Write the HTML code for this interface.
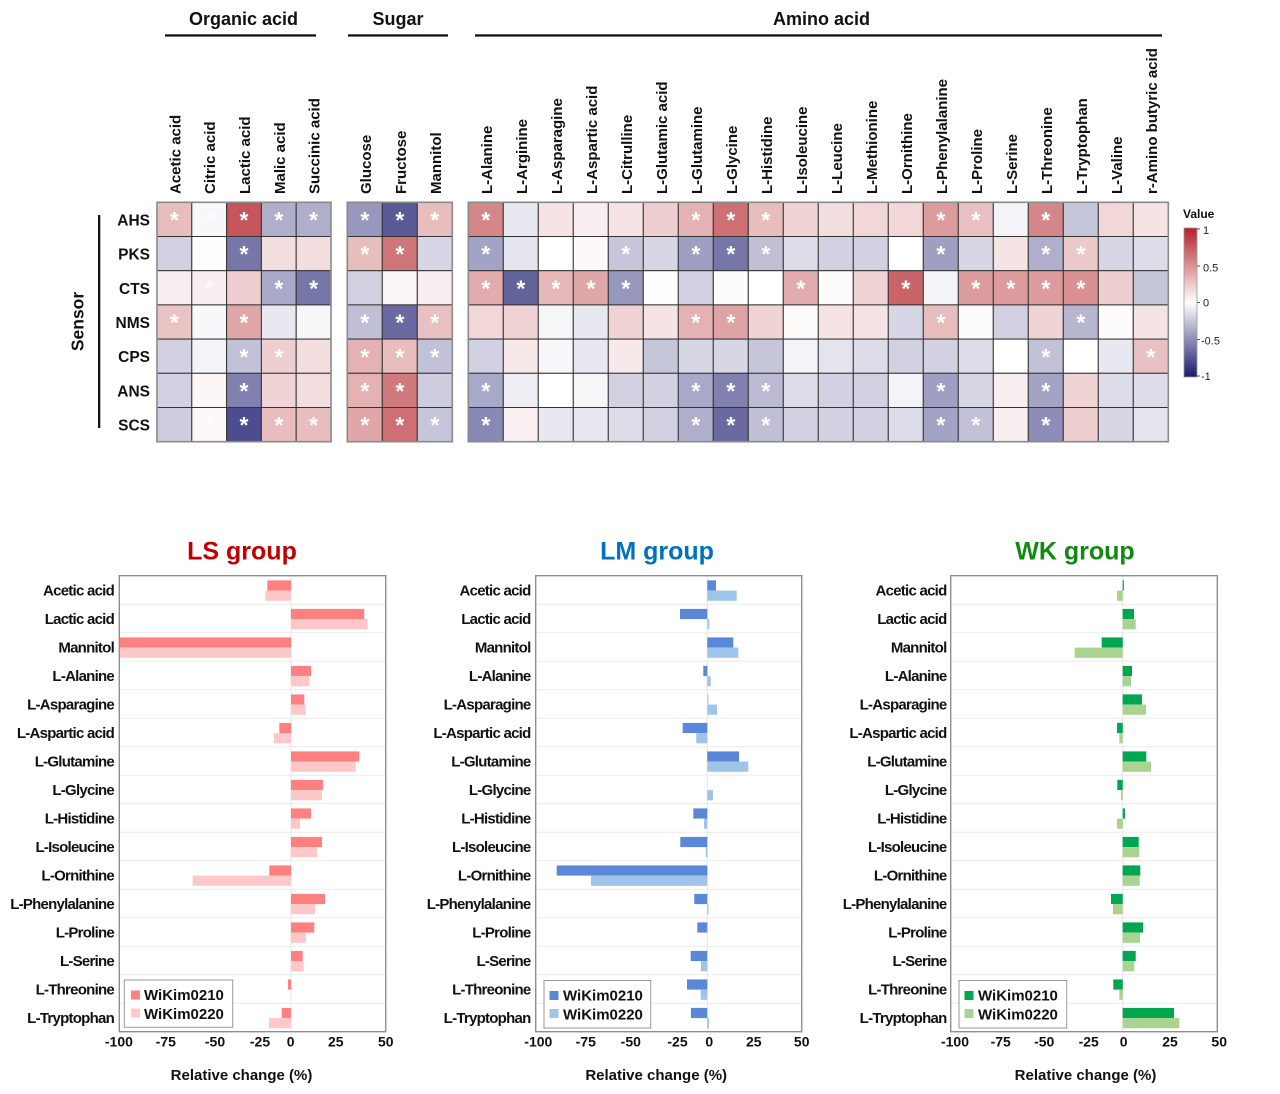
<!DOCTYPE html>
<html><head><meta charset="utf-8"><style>
html,body{margin:0;padding:0;background:#fff;}
svg{display:block;font-family:"Liberation Sans",Arial,sans-serif;}
.hm rect{stroke:#333;stroke-width:1;}
.st{fill:#fff;font-size:23px;font-weight:bold;text-anchor:middle;}
.cl{font-size:15px;font-weight:bold;fill:#111;}
.rl{font-size:15.5px;font-weight:bold;fill:#111;text-anchor:end;}
.bl{font-size:15px;font-weight:bold;fill:#111;text-anchor:end;letter-spacing:-0.75px;}
.tk{font-size:14px;font-weight:bold;fill:#111;text-anchor:middle;}
.ax{font-size:15px;font-weight:bold;fill:#111;text-anchor:middle;}
.lg{font-size:15px;font-weight:bold;fill:#111;}
</style></head><body>
<svg width="1280" height="1094" viewBox="0 0 1280 1094" xmlns="http://www.w3.org/2000/svg">
<defs>
<linearGradient id="cb" x1="0" y1="0" x2="0" y2="1">
<stop offset="0" stop-color="#b22228"/>
<stop offset="0.25" stop-color="#d99194"/>
<stop offset="0.5" stop-color="#ffffff"/>
<stop offset="0.75" stop-color="#8d8db7"/>
<stop offset="1" stop-color="#1a1a6e"/>
</linearGradient>
</defs>

<!-- Group headers -->
<g font-size="18" font-weight="bold" fill="#111" text-anchor="middle">
<text x="243.5" y="25">Organic acid</text>
<text x="398" y="25">Sugar</text>
<text x="821.5" y="25">Amino acid</text>
</g>
<rect x="165" y="34.3" width="151" height="2.3" fill="#111"/>
<rect x="348" y="34.3" width="100" height="2.3" fill="#111"/>
<rect x="475" y="34.3" width="687" height="2.3" fill="#111"/>

<!-- Column labels -->
<g class="cl">
<text transform="translate(180.4,194) rotate(-90)">Acetic acid</text>
<text transform="translate(215.2,194) rotate(-90)">Citric acid</text>
<text transform="translate(250,194) rotate(-90)">Lactic acid</text>
<text transform="translate(284.8,194) rotate(-90)">Malic acid</text>
<text transform="translate(319.6,194) rotate(-90)">Succinic acid</text>
<text transform="translate(370.8,194) rotate(-90)">Glucose</text>
<text transform="translate(405.8,194) rotate(-90)">Fructose</text>
<text transform="translate(440.8,194) rotate(-90)">Mannitol</text>
<text transform="translate(491.8,194) rotate(-90)">L-Alanine</text>
<text transform="translate(526.8,194) rotate(-90)">L-Arginine</text>
<text transform="translate(561.8,194) rotate(-90)">L-Asparagine</text>
<text transform="translate(596.8,194) rotate(-90)">L-Aspartic acid</text>
<text transform="translate(631.8,194) rotate(-90)">L-Citrulline</text>
<text transform="translate(666.8,194) rotate(-90)">L-Glutamic acid</text>
<text transform="translate(701.8,194) rotate(-90)">L-Glutamine</text>
<text transform="translate(736.8,194) rotate(-90)">L-Glycine</text>
<text transform="translate(771.8,194) rotate(-90)">L-Histidine</text>
<text transform="translate(806.8,194) rotate(-90)">L-Isoleucine</text>
<text transform="translate(841.8,194) rotate(-90)">L-Leucine</text>
<text transform="translate(876.8,194) rotate(-90)">L-Methionine</text>
<text transform="translate(911.8,194) rotate(-90)">L-Ornithine</text>
<text transform="translate(946.8,194) rotate(-90)">L-Phenylalanine</text>
<text transform="translate(981.8,194) rotate(-90)">L-Proline</text>
<text transform="translate(1016.8,194) rotate(-90)">L-Serine</text>
<text transform="translate(1051.8,194) rotate(-90)">L-Threonine</text>
<text transform="translate(1086.8,194) rotate(-90)">L-Tryptophan</text>
<text transform="translate(1121.8,194) rotate(-90)">L-Valine</text>
<text transform="translate(1156.8,194) rotate(-90)">r-Amino butyric acid</text>
</g>

<!-- Sensor label & row labels -->
<text transform="translate(83.5,321.5) rotate(-90)" font-size="17.5" font-weight="bold" fill="#111" text-anchor="middle">Sensor</text>
<rect x="98" y="215" width="2.3" height="213" fill="#111"/>
<g class="rl">
<text x="150" y="225.4">AHS</text>
<text x="150" y="259.6">PKS</text>
<text x="150" y="293.8">CTS</text>
<text x="150" y="328">NMS</text>
<text x="150" y="362.2">CPS</text>
<text x="150" y="396.4">ANS</text>
<text x="150" y="430.6">SCS</text>
</g>

<!-- Heatmap -->
<g class="hm">
<!-- AHS -->
<g transform="translate(0,202.3)">
<rect x="157" width="34.8" height="34.2" fill="#e8bdbe"/><rect x="191.8" width="34.8" height="34.2" fill="#f8f8fa"/><rect x="226.6" width="34.8" height="34.2" fill="#c5555a"/><rect x="261.4" width="34.8" height="34.2" fill="#afafcc"/><rect x="296.2" width="34.8" height="34.2" fill="#afafcc"/>
<rect x="347.3" width="35" height="34.2" fill="#9898be"/><rect x="382.3" width="35" height="34.2" fill="#5a5a96"/><rect x="417.3" width="35" height="34.2" fill="#e8bdbe"/>
<rect x="468.3" width="35" height="34.2" fill="#d58689"/><rect x="503.3" width="35" height="34.2" fill="#e8e8f1"/><rect x="538.3" width="35" height="34.2" fill="#f6e4e5"/><rect x="573.3" width="35" height="34.2" fill="#f9eeef"/><rect x="608.3" width="35" height="34.2" fill="#f6e4e5"/><rect x="643.3" width="35" height="34.2" fill="#eeced0"/><rect x="678.3" width="35" height="34.2" fill="#e4b2b4"/><rect x="713.3" width="35" height="34.2" fill="#cd6f73"/><rect x="748.3" width="35" height="34.2" fill="#e8bdbe"/><rect x="783.3" width="35" height="34.2" fill="#f0d3d4"/><rect x="818.3" width="35" height="34.2" fill="#f3dedf"/><rect x="853.3" width="35" height="34.2" fill="#f1d7d8"/><rect x="888.3" width="35" height="34.2" fill="#f1d7d8"/><rect x="923.3" width="35" height="34.2" fill="#dc9c9e"/><rect x="958.3" width="35" height="34.2" fill="#e9c1c3"/><rect x="993.3" width="35" height="34.2" fill="#f4f4f8"/><rect x="1028.3" width="35" height="34.2" fill="#d58689"/><rect x="1063.3" width="35" height="34.2" fill="#c6c6db"/><rect x="1098.3" width="35" height="34.2" fill="#f1d7d8"/><rect x="1133.3" width="35" height="34.2" fill="#f6e4e5"/>
<g class="st"><text x="174.4" y="25.7">*</text><text x="209.2" y="25.7" opacity="0.6">*</text><text x="244" y="25.7">*</text><text x="278.8" y="25.7">*</text><text x="313.6" y="25.7">*</text><text x="364.8" y="25.7">*</text><text x="399.8" y="25.7">*</text><text x="434.8" y="25.7">*</text><text x="485.8" y="25.7">*</text><text x="695.8" y="25.7">*</text><text x="730.8" y="25.7">*</text><text x="765.8" y="25.7">*</text><text x="940.8" y="25.7">*</text><text x="975.8" y="25.7">*</text><text x="1045.8" y="25.7">*</text></g>
</g>
<!-- PKS -->
<g transform="translate(0,236.5)">
<rect x="157" width="34.8" height="34.2" fill="#d1d1e2"/><rect x="191.8" width="34.8" height="34.2" fill="#fdfdfd"/><rect x="226.6" width="34.8" height="34.2" fill="#7676a8"/><rect x="261.4" width="34.8" height="34.2" fill="#f3dedf"/><rect x="296.2" width="34.8" height="34.2" fill="#f3dedf"/>
<rect x="347.3" width="35" height="34.2" fill="#e8bdbe"/><rect x="382.3" width="35" height="34.2" fill="#cf767a"/><rect x="417.3" width="35" height="34.2" fill="#d6d6e5"/>
<rect x="468.3" width="35" height="34.2" fill="#a3a3c5"/><rect x="503.3" width="35" height="34.2" fill="#e4e4ee"/><rect x="538.3" width="35" height="34.2" fill="#ffffff"/><rect x="573.3" width="35" height="34.2" fill="#fdf9f9"/><rect x="608.3" width="35" height="34.2" fill="#c6c6db"/><rect x="643.3" width="35" height="34.2" fill="#d6d6e5"/><rect x="678.3" width="35" height="34.2" fill="#9f9fc2"/><rect x="713.3" width="35" height="34.2" fill="#7676a8"/><rect x="748.3" width="35" height="34.2" fill="#bfbfd6"/><rect x="783.3" width="35" height="34.2" fill="#dddde9"/><rect x="818.3" width="35" height="34.2" fill="#d1d1e2"/><rect x="853.3" width="35" height="34.2" fill="#d1d1e2"/><rect x="888.3" width="35" height="34.2" fill="#ffffff"/><rect x="923.3" width="35" height="34.2" fill="#9f9fc2"/><rect x="958.3" width="35" height="34.2" fill="#d6d6e5"/><rect x="993.3" width="35" height="34.2" fill="#f6e4e5"/><rect x="1028.3" width="35" height="34.2" fill="#afafcc"/><rect x="1063.3" width="35" height="34.2" fill="#ecc8c9"/><rect x="1098.3" width="35" height="34.2" fill="#d6d6e5"/><rect x="1133.3" width="35" height="34.2" fill="#dddde9"/>
<g class="st"><text x="244" y="25.7">*</text><text x="364.8" y="25.7">*</text><text x="399.8" y="25.7">*</text><text x="485.8" y="25.7">*</text><text x="625.8" y="25.7">*</text><text x="695.8" y="25.7">*</text><text x="730.8" y="25.7">*</text><text x="765.8" y="25.7">*</text><text x="940.8" y="25.7">*</text><text x="1045.8" y="25.7">*</text><text x="1080.8" y="25.7">*</text></g>
</g>
<!-- CTS -->
<g transform="translate(0,270.7)">
<rect x="157" width="34.8" height="34.2" fill="#f9eeef"/><rect x="191.8" width="34.8" height="34.2" fill="#f9eeef"/><rect x="226.6" width="34.8" height="34.2" fill="#eeced0"/><rect x="261.4" width="34.8" height="34.2" fill="#a8a8c8"/><rect x="296.2" width="34.8" height="34.2" fill="#7676a8"/>
<rect x="347.3" width="35" height="34.2" fill="#d1d1e2"/><rect x="382.3" width="35" height="34.2" fill="#fbf4f4"/><rect x="417.3" width="35" height="34.2" fill="#f9eeef"/>
<rect x="468.3" width="35" height="34.2" fill="#e2abad"/><rect x="503.3" width="35" height="34.2" fill="#63639c"/><rect x="538.3" width="35" height="34.2" fill="#e6b8ba"/><rect x="573.3" width="35" height="34.2" fill="#e0a7a9"/><rect x="608.3" width="35" height="34.2" fill="#9898be"/><rect x="643.3" width="35" height="34.2" fill="#fefefe"/><rect x="678.3" width="35" height="34.2" fill="#d1d1e2"/><rect x="713.3" width="35" height="34.2" fill="#fefbfb"/><rect x="748.3" width="35" height="34.2" fill="#ffffff"/><rect x="783.3" width="35" height="34.2" fill="#e2abad"/><rect x="818.3" width="35" height="34.2" fill="#fefbfb"/><rect x="853.3" width="35" height="34.2" fill="#f0d3d4"/><rect x="888.3" width="35" height="34.2" fill="#c96469"/><rect x="923.3" width="35" height="34.2" fill="#f4f4f8"/><rect x="958.3" width="35" height="34.2" fill="#dc9c9e"/><rect x="993.3" width="35" height="34.2" fill="#dc9c9e"/><rect x="1028.3" width="35" height="34.2" fill="#dc9c9e"/><rect x="1063.3" width="35" height="34.2" fill="#d99194"/><rect x="1098.3" width="35" height="34.2" fill="#eeced0"/><rect x="1133.3" width="35" height="34.2" fill="#c6c6db"/>
<g class="st"><text x="209.2" y="25.7" opacity="0.7">*</text><text x="278.8" y="25.7">*</text><text x="313.6" y="25.7">*</text><text x="485.8" y="25.7">*</text><text x="520.8" y="25.7">*</text><text x="555.8" y="25.7">*</text><text x="590.8" y="25.7">*</text><text x="625.8" y="25.7">*</text><text x="800.8" y="25.7">*</text><text x="905.8" y="25.7">*</text><text x="975.8" y="25.7">*</text><text x="1010.8" y="25.7">*</text><text x="1045.8" y="25.7">*</text><text x="1080.8" y="25.7">*</text></g>
</g>
<!-- NMS -->
<g transform="translate(0,304.9)">
<rect x="157" width="34.8" height="34.2" fill="#eac4c5"/><rect x="191.8" width="34.8" height="34.2" fill="#f8f8fb"/><rect x="226.6" width="34.8" height="34.2" fill="#e0a7a9"/><rect x="261.4" width="34.8" height="34.2" fill="#e8e8f1"/><rect x="296.2" width="34.8" height="34.2" fill="#f6f6f9"/>
<rect x="347.3" width="35" height="34.2" fill="#bfbfd6"/><rect x="382.3" width="35" height="34.2" fill="#6a6aa1"/><rect x="417.3" width="35" height="34.2" fill="#e9c1c3"/>
<rect x="468.3" width="35" height="34.2" fill="#f1d7d8"/><rect x="503.3" width="35" height="34.2" fill="#f0d3d4"/><rect x="538.3" width="35" height="34.2" fill="#f6f6f9"/><rect x="573.3" width="35" height="34.2" fill="#e8e8f1"/><rect x="608.3" width="35" height="34.2" fill="#f0d3d4"/><rect x="643.3" width="35" height="34.2" fill="#f6e4e5"/><rect x="678.3" width="35" height="34.2" fill="#e4b2b4"/><rect x="713.3" width="35" height="34.2" fill="#dfa2a5"/><rect x="748.3" width="35" height="34.2" fill="#f0d3d4"/><rect x="783.3" width="35" height="34.2" fill="#fefbfb"/><rect x="818.3" width="35" height="34.2" fill="#f6e4e5"/><rect x="853.3" width="35" height="34.2" fill="#f6e4e5"/><rect x="888.3" width="35" height="34.2" fill="#d6d6e5"/><rect x="923.3" width="35" height="34.2" fill="#e8bdbe"/><rect x="958.3" width="35" height="34.2" fill="#fefbfb"/><rect x="993.3" width="35" height="34.2" fill="#d1d1e2"/><rect x="1028.3" width="35" height="34.2" fill="#f0d3d4"/><rect x="1063.3" width="35" height="34.2" fill="#b6b6d1"/><rect x="1098.3" width="35" height="34.2" fill="#fefbfb"/><rect x="1133.3" width="35" height="34.2" fill="#f6e4e5"/>
<g class="st"><text x="174.4" y="25.7">*</text><text x="244" y="25.7">*</text><text x="364.8" y="25.7">*</text><text x="399.8" y="25.7">*</text><text x="434.8" y="25.7">*</text><text x="695.8" y="25.7">*</text><text x="730.8" y="25.7">*</text><text x="940.8" y="25.7">*</text><text x="1080.8" y="25.7">*</text></g>
</g>
<!-- CPS -->
<g transform="translate(0,339.1)">
<rect x="157" width="34.8" height="34.2" fill="#d1d1e2"/><rect x="191.8" width="34.8" height="34.2" fill="#f4f4f8"/><rect x="226.6" width="34.8" height="34.2" fill="#c1c1d8"/><rect x="261.4" width="34.8" height="34.2" fill="#eeced0"/><rect x="296.2" width="34.8" height="34.2" fill="#f3dedf"/>
<rect x="347.3" width="35" height="34.2" fill="#e4b2b4"/><rect x="382.3" width="35" height="34.2" fill="#e8bdbe"/><rect x="417.3" width="35" height="34.2" fill="#c1c1d8"/>
<rect x="468.3" width="35" height="34.2" fill="#d1d1e2"/><rect x="503.3" width="35" height="34.2" fill="#f7e9ea"/><rect x="538.3" width="35" height="34.2" fill="#f8f8fb"/><rect x="573.3" width="35" height="34.2" fill="#e8e8f1"/><rect x="608.3" width="35" height="34.2" fill="#f7e9ea"/><rect x="643.3" width="35" height="34.2" fill="#c6c6db"/><rect x="678.3" width="35" height="34.2" fill="#d6d6e5"/><rect x="713.3" width="35" height="34.2" fill="#d6d6e5"/><rect x="748.3" width="35" height="34.2" fill="#c6c6db"/><rect x="783.3" width="35" height="34.2" fill="#f4f4f8"/><rect x="818.3" width="35" height="34.2" fill="#e4e4ee"/><rect x="853.3" width="35" height="34.2" fill="#dddde9"/><rect x="888.3" width="35" height="34.2" fill="#d1d1e2"/><rect x="923.3" width="35" height="34.2" fill="#d1d1e2"/><rect x="958.3" width="35" height="34.2" fill="#dddde9"/><rect x="993.3" width="35" height="34.2" fill="#ffffff"/><rect x="1028.3" width="35" height="34.2" fill="#c1c1d8"/><rect x="1063.3" width="35" height="34.2" fill="#ffffff"/><rect x="1098.3" width="35" height="34.2" fill="#e8e8f1"/><rect x="1133.3" width="35" height="34.2" fill="#e9c1c3"/>
<g class="st"><text x="244" y="25.7">*</text><text x="278.8" y="25.7">*</text><text x="364.8" y="25.7">*</text><text x="399.8" y="25.7">*</text><text x="434.8" y="25.7">*</text><text x="1045.8" y="25.7">*</text><text x="1150.8" y="25.7">*</text></g>
</g>
<!-- ANS -->
<g transform="translate(0,373.3)">
<rect x="157" width="34.8" height="34.2" fill="#d1d1e2"/><rect x="191.8" width="34.8" height="34.2" fill="#fcf6f6"/><rect x="226.6" width="34.8" height="34.2" fill="#8181af"/><rect x="261.4" width="34.8" height="34.2" fill="#f0d3d4"/><rect x="296.2" width="34.8" height="34.2" fill="#f3dedf"/>
<rect x="347.3" width="35" height="34.2" fill="#e4b2b4"/><rect x="382.3" width="35" height="34.2" fill="#d17a7e"/><rect x="417.3" width="35" height="34.2" fill="#cdcddf"/>
<rect x="468.3" width="35" height="34.2" fill="#a8a8c8"/><rect x="503.3" width="35" height="34.2" fill="#ededf3"/><rect x="538.3" width="35" height="34.2" fill="#ffffff"/><rect x="573.3" width="35" height="34.2" fill="#f6f6f9"/><rect x="608.3" width="35" height="34.2" fill="#d1d1e2"/><rect x="643.3" width="35" height="34.2" fill="#d1d1e2"/><rect x="678.3" width="35" height="34.2" fill="#a8a8c8"/><rect x="713.3" width="35" height="34.2" fill="#8181af"/><rect x="748.3" width="35" height="34.2" fill="#babad4"/><rect x="783.3" width="35" height="34.2" fill="#dddde9"/><rect x="818.3" width="35" height="34.2" fill="#d1d1e2"/><rect x="853.3" width="35" height="34.2" fill="#d1d1e2"/><rect x="888.3" width="35" height="34.2" fill="#f4f4f8"/><rect x="923.3" width="35" height="34.2" fill="#9f9fc2"/><rect x="958.3" width="35" height="34.2" fill="#d6d6e5"/><rect x="993.3" width="35" height="34.2" fill="#f9eeef"/><rect x="1028.3" width="35" height="34.2" fill="#a3a3c5"/><rect x="1063.3" width="35" height="34.2" fill="#f0d3d4"/><rect x="1098.3" width="35" height="34.2" fill="#dddde9"/><rect x="1133.3" width="35" height="34.2" fill="#dddde9"/>
<g class="st"><text x="244" y="25.7">*</text><text x="364.8" y="25.7">*</text><text x="399.8" y="25.7">*</text><text x="485.8" y="25.7">*</text><text x="695.8" y="25.7">*</text><text x="730.8" y="25.7">*</text><text x="765.8" y="25.7">*</text><text x="940.8" y="25.7">*</text><text x="1045.8" y="25.7">*</text></g>
</g>
<!-- SCS -->
<g transform="translate(0,407.5)">
<rect x="157" width="34.8" height="34.2" fill="#cdcddf"/><rect x="191.8" width="34.8" height="34.2" fill="#fdf8f8"/><rect x="226.6" width="34.8" height="34.2" fill="#4c4c8e"/><rect x="261.4" width="34.8" height="34.2" fill="#e8bdbe"/><rect x="296.2" width="34.8" height="34.2" fill="#e8bdbe"/>
<rect x="347.3" width="35" height="34.2" fill="#e0a7a9"/><rect x="382.3" width="35" height="34.2" fill="#cd6f73"/><rect x="417.3" width="35" height="34.2" fill="#c6c6db"/>
<rect x="468.3" width="35" height="34.2" fill="#8888b4"/><rect x="503.3" width="35" height="34.2" fill="#faeff0"/><rect x="538.3" width="35" height="34.2" fill="#e8e8f1"/><rect x="573.3" width="35" height="34.2" fill="#e8e8f1"/><rect x="608.3" width="35" height="34.2" fill="#dddde9"/><rect x="643.3" width="35" height="34.2" fill="#d1d1e2"/><rect x="678.3" width="35" height="34.2" fill="#afafcc"/><rect x="713.3" width="35" height="34.2" fill="#6a6aa1"/><rect x="748.3" width="35" height="34.2" fill="#bfbfd6"/><rect x="783.3" width="35" height="34.2" fill="#d1d1e2"/><rect x="818.3" width="35" height="34.2" fill="#d1d1e2"/><rect x="853.3" width="35" height="34.2" fill="#d1d1e2"/><rect x="888.3" width="35" height="34.2" fill="#dddde9"/><rect x="923.3" width="35" height="34.2" fill="#a3a3c5"/><rect x="958.3" width="35" height="34.2" fill="#c1c1d8"/><rect x="993.3" width="35" height="34.2" fill="#f9eeef"/><rect x="1028.3" width="35" height="34.2" fill="#8d8db7"/><rect x="1063.3" width="35" height="34.2" fill="#eeced0"/><rect x="1098.3" width="35" height="34.2" fill="#d6d6e5"/><rect x="1133.3" width="35" height="34.2" fill="#e4e4ee"/>
<g class="st"><text x="209.2" y="25.7" opacity="0.7">*</text><text x="244" y="25.7">*</text><text x="278.8" y="25.7">*</text><text x="313.6" y="25.7">*</text><text x="364.8" y="25.7">*</text><text x="399.8" y="25.7">*</text><text x="434.8" y="25.7">*</text><text x="485.8" y="25.7">*</text><text x="695.8" y="25.7">*</text><text x="730.8" y="25.7">*</text><text x="765.8" y="25.7">*</text><text x="940.8" y="25.7">*</text><text x="975.8" y="25.7">*</text><text x="1045.8" y="25.7">*</text></g>
</g>
</g>
<!-- outer group borders -->
<g fill="none" stroke="#8a8a8a" stroke-width="1.6">
<rect x="157" y="202.3" width="174" height="239.4"/>
<rect x="347.3" y="202.3" width="105" height="239.4"/>
<rect x="468.3" y="202.3" width="700" height="239.4"/>
</g>

<!-- Colorbar -->
<text x="1183" y="218" font-size="12" font-weight="bold" fill="#111">Value</text>
<rect x="1184" y="228" width="13" height="149" fill="url(#cb)" stroke="#999" stroke-width="0.8"/>
<g stroke="#555" stroke-width="1">
<line x1="1197" y1="229" x2="1200" y2="229"/>
<line x1="1197" y1="266" x2="1200" y2="266"/>
<line x1="1197" y1="302.5" x2="1200" y2="302.5"/>
<line x1="1197" y1="339.5" x2="1200" y2="339.5"/>
<line x1="1197" y1="376" x2="1200" y2="376"/>
</g>
<g font-size="11" fill="#222">
<text x="1203" y="234">1</text>
<text x="1203" y="271.5">0.5</text>
<text x="1203" y="306.5">0</text>
<text x="1201" y="344.5">-0.5</text>
<text x="1201" y="380">-1</text>
</g>

<!-- ================= Bar charts ================= -->
<g font-size="25" font-weight="bold" text-anchor="middle">
<text x="242" y="559.3" fill="#c00000">LS group</text>
<text x="657" y="559.3" fill="#0070c0">LM group</text>
<text x="1075" y="559.3" fill="#118a11">WK group</text>
</g>

<!-- gridlines -->
<g stroke="#ebebeb" stroke-width="1">
<path d="M119.3 604.2H385.7M119.3 632.7H385.7M119.3 661.2H385.7M119.3 689.7H385.7M119.3 718.2H385.7M119.3 746.7H385.7M119.3 775.2H385.7M119.3 803.7H385.7M119.3 832.2H385.7M119.3 860.7H385.7M119.3 889.2H385.7M119.3 917.7H385.7M119.3 946.2H385.7M119.3 974.7H385.7M119.3 1003.2H385.7"/>
<path d="M535.7 604.2H801.7M535.7 632.7H801.7M535.7 661.2H801.7M535.7 689.7H801.7M535.7 718.2H801.7M535.7 746.7H801.7M535.7 775.2H801.7M535.7 803.7H801.7M535.7 832.2H801.7M535.7 860.7H801.7M535.7 889.2H801.7M535.7 917.7H801.7M535.7 946.2H801.7M535.7 974.7H801.7M535.7 1003.2H801.7"/>
<path d="M950.7 604.2H1217.3M950.7 632.7H1217.3M950.7 661.2H1217.3M950.7 689.7H1217.3M950.7 718.2H1217.3M950.7 746.7H1217.3M950.7 775.2H1217.3M950.7 803.7H1217.3M950.7 832.2H1217.3M950.7 860.7H1217.3M950.7 889.2H1217.3M950.7 917.7H1217.3M950.7 946.2H1217.3M950.7 974.7H1217.3M950.7 1003.2H1217.3"/>
<path d="M291 575.7V1031.7M707.3 575.7V1031.7M1122.7 575.7V1031.7" stroke="#e4e4e4"/>
</g>

<!-- LS bars -->
<g fill="#ff8080">
<rect x="267.3" y="580.4" width="23.7" height="10.2"/>
<rect x="291" y="608.9" width="73.3" height="10.2"/>
<rect x="119.3" y="637.4" width="171.7" height="10.2"/>
<rect x="291" y="665.9" width="20" height="10.2"/>
<rect x="291" y="694.4" width="13.3" height="10.2"/>
<rect x="279.3" y="722.9" width="11.7" height="10.2"/>
<rect x="291" y="751.4" width="68.3" height="10.2"/>
<rect x="291" y="779.9" width="32" height="10.2"/>
<rect x="291" y="808.4" width="20" height="10.2"/>
<rect x="291" y="836.9" width="31" height="10.2"/>
<rect x="269.3" y="865.4" width="21.7" height="10.2"/>
<rect x="291" y="893.9" width="34" height="10.2"/>
<rect x="291" y="922.4" width="23.3" height="10.2"/>
<rect x="291" y="950.9" width="11.7" height="10.2"/>
<rect x="288" y="979.4" width="3" height="10.2"/>
<rect x="281.7" y="1007.9" width="9.3" height="10.2"/>
</g>
<g fill="#ffc8c8">
<rect x="265.3" y="590.6" width="25.7" height="10.2"/>
<rect x="291" y="619.1" width="76.7" height="10.2"/>
<rect x="119.3" y="647.6" width="171.7" height="10.2"/>
<rect x="291" y="676.1" width="18.3" height="10.2"/>
<rect x="291" y="704.6" width="14.7" height="10.2"/>
<rect x="274" y="733.1" width="17" height="10.2"/>
<rect x="291" y="761.6" width="64.7" height="10.2"/>
<rect x="291" y="790.1" width="31" height="10.2"/>
<rect x="291" y="818.6" width="9" height="10.2"/>
<rect x="291" y="847.1" width="26" height="10.2"/>
<rect x="192.7" y="875.6" width="98.3" height="10.2"/>
<rect x="291" y="904.1" width="24" height="10.2"/>
<rect x="291" y="932.6" width="15" height="10.2"/>
<rect x="291" y="961.1" width="12.7" height="10.2"/>
<rect x="269" y="1018.1" width="22" height="10.2"/>
</g>

<!-- LM bars -->
<g fill="#5b87d9">
<rect x="707.3" y="580.4" width="8.7" height="10.2"/>
<rect x="680" y="608.9" width="27.3" height="10.2"/>
<rect x="707.3" y="637.4" width="26" height="10.2"/>
<rect x="703.3" y="665.9" width="4" height="10.2"/>
<rect x="707.3" y="694.4" width="1.2" height="10.2" opacity="0.4"/>
<rect x="682.7" y="722.9" width="24.6" height="10.2"/>
<rect x="707.3" y="751.4" width="31.7" height="10.2"/>
<rect x="693.3" y="808.4" width="14" height="10.2"/>
<rect x="680.3" y="836.9" width="27" height="10.2"/>
<rect x="556.7" y="865.4" width="150.6" height="10.2"/>
<rect x="694.3" y="893.9" width="13" height="10.2"/>
<rect x="697.3" y="922.4" width="10" height="10.2"/>
<rect x="690.7" y="950.9" width="16.6" height="10.2"/>
<rect x="687" y="979.4" width="20.3" height="10.2"/>
<rect x="691" y="1007.9" width="16.3" height="10.2"/>
</g>
<g fill="#9fc4ea">
<rect x="707.3" y="590.6" width="29.4" height="10.2"/>
<rect x="707.3" y="619.1" width="2" height="10.2"/>
<rect x="707.3" y="647.6" width="31" height="10.2"/>
<rect x="707.3" y="676.1" width="3.4" height="10.2"/>
<rect x="707.3" y="704.6" width="9.7" height="10.2"/>
<rect x="696.3" y="733.1" width="11" height="10.2"/>
<rect x="707.3" y="761.6" width="41" height="10.2"/>
<rect x="707.3" y="790.1" width="5.7" height="10.2"/>
<rect x="704" y="818.6" width="3.3" height="10.2"/>
<rect x="705.7" y="847.1" width="1.6" height="10.2"/>
<rect x="591" y="875.6" width="116.3" height="10.2"/>
<rect x="707.3" y="904.1" width="1.2" height="10.2"/>
<rect x="701" y="961.1" width="6.3" height="10.2"/>
<rect x="700.7" y="989.6" width="6.6" height="10.2"/>
<rect x="707.3" y="1018.1" width="1.7" height="10.2"/>
</g>

<!-- WK bars -->
<g fill="#00a650">
<rect x="1122.7" y="580.4" width="1.2" height="10.2"/>
<rect x="1122.7" y="608.9" width="11.3" height="10.2"/>
<rect x="1101.7" y="637.4" width="21" height="10.2"/>
<rect x="1122.7" y="665.9" width="9.3" height="10.2"/>
<rect x="1122.7" y="694.4" width="19.3" height="10.2"/>
<rect x="1117" y="722.9" width="5.7" height="10.2"/>
<rect x="1122.7" y="751.4" width="23.6" height="10.2"/>
<rect x="1117.3" y="779.9" width="5.4" height="10.2"/>
<rect x="1122.7" y="808.4" width="2.3" height="10.2"/>
<rect x="1122.7" y="836.9" width="16" height="10.2"/>
<rect x="1122.7" y="865.4" width="17.6" height="10.2"/>
<rect x="1111" y="893.9" width="11.7" height="10.2"/>
<rect x="1122.7" y="922.4" width="20.3" height="10.2"/>
<rect x="1122.7" y="950.9" width="13" height="10.2"/>
<rect x="1113.3" y="979.4" width="9.4" height="10.2"/>
<rect x="1122.7" y="1007.9" width="51.3" height="10.2"/>
</g>
<g fill="#a9d38f">
<rect x="1117" y="590.6" width="5.7" height="10.2"/>
<rect x="1122.7" y="619.1" width="13" height="10.2"/>
<rect x="1074.7" y="647.6" width="48" height="10.2"/>
<rect x="1122.7" y="676.1" width="8.3" height="10.2"/>
<rect x="1122.7" y="704.6" width="23.3" height="10.2"/>
<rect x="1119.3" y="733.1" width="3.4" height="10.2"/>
<rect x="1122.7" y="761.6" width="28.3" height="10.2"/>
<rect x="1121" y="790.1" width="1.7" height="10.2"/>
<rect x="1117" y="818.6" width="5.7" height="10.2"/>
<rect x="1122.7" y="847.1" width="16.6" height="10.2"/>
<rect x="1122.7" y="875.6" width="17" height="10.2"/>
<rect x="1113" y="904.1" width="9.7" height="10.2"/>
<rect x="1122.7" y="932.6" width="17.3" height="10.2"/>
<rect x="1122.7" y="961.1" width="11.6" height="10.2"/>
<rect x="1119.3" y="989.6" width="3.4" height="10.2"/>
<rect x="1122.7" y="1018.1" width="56.6" height="10.2"/>
</g>

<!-- frames -->
<g fill="none" stroke="#8f8f8f" stroke-width="1.4">
<rect x="119.3" y="575.7" width="266.4" height="456"/>
<rect x="535.7" y="575.7" width="266" height="456"/>
<rect x="950.7" y="575.7" width="266.6" height="456"/>
</g>

<!-- category labels -->
<g class="bl">
<g transform="translate(114,0)">
<text y="595.7">Acetic acid</text><text y="624.2">Lactic acid</text><text y="652.7">Mannitol</text><text y="681.2">L-Alanine</text><text y="709.7">L-Asparagine</text><text y="738.2">L-Aspartic acid</text><text y="766.7">L-Glutamine</text><text y="795.2">L-Glycine</text><text y="823.7">L-Histidine</text><text y="852.2">L-Isoleucine</text><text y="880.7">L-Ornithine</text><text y="909.2">L-Phenylalanine</text><text y="937.7">L-Proline</text><text y="966.2">L-Serine</text><text y="994.7">L-Threonine</text><text y="1023.2">L-Tryptophan</text>
</g>
<g transform="translate(530.5,0)">
<text y="595.7">Acetic acid</text><text y="624.2">Lactic acid</text><text y="652.7">Mannitol</text><text y="681.2">L-Alanine</text><text y="709.7">L-Asparagine</text><text y="738.2">L-Aspartic acid</text><text y="766.7">L-Glutamine</text><text y="795.2">L-Glycine</text><text y="823.7">L-Histidine</text><text y="852.2">L-Isoleucine</text><text y="880.7">L-Ornithine</text><text y="909.2">L-Phenylalanine</text><text y="937.7">L-Proline</text><text y="966.2">L-Serine</text><text y="994.7">L-Threonine</text><text y="1023.2">L-Tryptophan</text>
</g>
<g transform="translate(946.5,0)">
<text y="595.7">Acetic acid</text><text y="624.2">Lactic acid</text><text y="652.7">Mannitol</text><text y="681.2">L-Alanine</text><text y="709.7">L-Asparagine</text><text y="738.2">L-Aspartic acid</text><text y="766.7">L-Glutamine</text><text y="795.2">L-Glycine</text><text y="823.7">L-Histidine</text><text y="852.2">L-Isoleucine</text><text y="880.7">L-Ornithine</text><text y="909.2">L-Phenylalanine</text><text y="937.7">L-Proline</text><text y="966.2">L-Serine</text><text y="994.7">L-Threonine</text><text y="1023.2">L-Tryptophan</text>
</g>
</g>

<!-- legends -->
<rect x="124.3" y="980" width="108.4" height="47.3" fill="#fff" stroke="#999" stroke-width="1"/>
<rect x="131" y="990.5" width="9" height="9" fill="#ff8080"/>
<rect x="131" y="1008.5" width="9" height="9" fill="#ffc8c8"/>
<text class="lg" x="144" y="1000">WiKim0210</text>
<text class="lg" x="144" y="1019">WiKim0220</text>

<rect x="544" y="980.5" width="106.7" height="47.5" fill="#fff" stroke="#999" stroke-width="1"/>
<rect x="549.5" y="991" width="9" height="9" fill="#5b87d9"/>
<rect x="549.5" y="1009" width="9" height="9" fill="#9fc4ea"/>
<text class="lg" x="563" y="1000.5">WiKim0210</text>
<text class="lg" x="563" y="1019.5">WiKim0220</text>

<rect x="959" y="980.5" width="107.7" height="47.5" fill="#fff" stroke="#999" stroke-width="1"/>
<rect x="964.5" y="991" width="9" height="9" fill="#00a650"/>
<rect x="964.5" y="1009" width="9" height="9" fill="#a9d38f"/>
<text class="lg" x="978" y="1000.5">WiKim0210</text>
<text class="lg" x="978" y="1019.5">WiKim0220</text>

<!-- tick labels -->
<g class="tk">
<text x="118.9" y="1046.7">-100</text><text x="165.8" y="1046.7">-75</text><text x="215" y="1046.7">-50</text><text x="260" y="1046.7">-25</text><text x="290.7" y="1046.7">0</text><text x="335.8" y="1046.7">25</text><text x="385.8" y="1046.7">50</text>
<text x="538.3" y="1046.7">-100</text><text x="585.8" y="1046.7">-75</text><text x="630.8" y="1046.7">-50</text><text x="677.5" y="1046.7">-25</text><text x="709.3" y="1046.7">0</text><text x="753.8" y="1046.7">25</text><text x="801.7" y="1046.7">50</text>
<text x="955" y="1046.7">-100</text><text x="1000.7" y="1046.7">-75</text><text x="1044.2" y="1046.7">-50</text><text x="1088.7" y="1046.7">-25</text><text x="1123.7" y="1046.7">0</text><text x="1170" y="1046.7">25</text><text x="1219.2" y="1046.7">50</text>
</g>
<g class="ax">
<text x="241.5" y="1080">Relative change (%)</text>
<text x="656.2" y="1080">Relative change (%)</text>
<text x="1085.5" y="1080">Relative change (%)</text>
</g>
</svg>
</body></html>
